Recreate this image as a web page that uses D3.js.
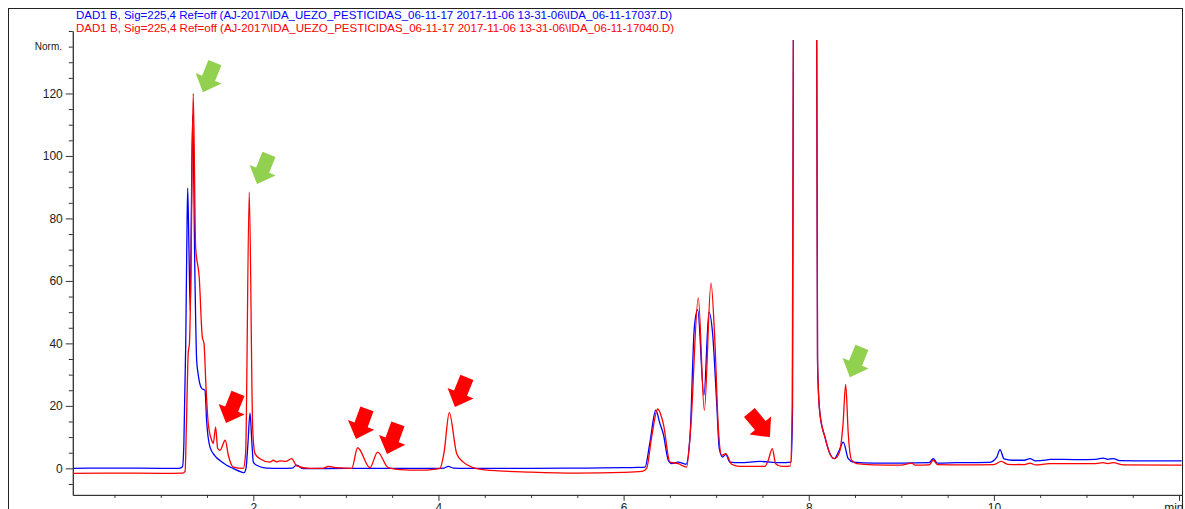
<!DOCTYPE html>
<html>
<head>
<meta charset="utf-8">
<script src="https://cdn.jsdelivr.net/npm/d3@7"></script>
<style>
	body { margin: 0; background: #fff; }
	svg { display: block; font-family: 'Liberation Sans', Arial, sans-serif; }
</style>
</head>
<body>
<div id="chart"></div>
<script>
// NOTE chromatogram data, [time (min), signal (Norm.)]
var blueTitle = 'DAD1 B, Sig=225,4 Ref=off (AJ-2017\\IDA_UEZO_PESTICIDAS_06-11-17 2017-11-06 13-31-06\\IDA_06-11-17037.D)';
var redTitle = 'DAD1 B, Sig=225,4 Ref=off (AJ-2017\\IDA_UEZO_PESTICIDAS_06-11-17 2017-11-06 13-31-06\\IDA_06-11-17040.D)';

var blueTrace = [
	[0.05, 0], [0.6, 0.1], [1.0, 0], [1.2, 0], [1.235, 0.5], [1.25, 8], [1.27, 40], [1.283, 75],
	[1.291, 89.7], [1.305, 70], [1.319, 50.5], [1.33, 80], [1.345, 113], [1.37, 60], [1.388, 34.6],
	[1.405, 30], [1.442, 25.6], [1.478, 25], [1.496, 15], [1.532, 6.8], [1.586, 4], [1.64, 2.5],
	[1.712, 1], [1.78, 0], [1.874, -1.2], [1.899, -1.4], [1.921, 0], [1.942, 8], [1.964, 17.7],
	[1.985, 8], [2.0, 2], [2.036, 1], [2.144, 0.1], [2.3, 0], [2.42, 0.1], [2.468, 1], [2.54, -0.1],
	[3.0, 0], [3.5, 0], [4.0, 0], [4.06, 0.1], [4.106, 0.6], [4.16, 0.1], [4.3, 0], [5.0, 0],
	[5.6, 0.1], [6.0, 0.2], [6.15, 0.3], [6.231, 0.4], [6.285, 8.4], [6.347, 18.6], [6.393, 14.3],
	[6.429, 11], [6.483, 2.6], [6.519, 1.5], [6.59, 2], [6.674, 1.3], [6.717, 10], [6.764, 45],
	[6.8, 50.8], [6.868, 23.4], [6.922, 50], [6.962, 43], [7.006, 20.7], [7.034, 6.3], [7.07, 3.6],
	[7.103, 4.5], [7.149, 2], [7.257, 1.8], [7.473, 2.2], [7.69, 1.8], [7.81, 2], [7.825, 20],
	[7.835, 150], [7.85, 600], [7.96, 2000], [8.07, 600], [8.085, 150], [8.095, 35], [8.103, 26],
	[8.121, 17.5], [8.175, 10], [8.229, 4.7], [8.276, 3.1], [8.33, 5.8], [8.373, 8.4], [8.427, 3.1],
	[8.481, 2], [8.7, 1.7], [9.0, 1.7], [9.3, 1.8], [9.345, 3.1], [9.39, 1.7], [9.6, 1.8], [9.95, 1.9],
	[10.03, 3.5], [10.066, 6], [10.11, 3], [10.2, 2.6], [10.33, 2.6], [10.39, 3.1], [10.45, 2.4],
	[10.55, 2.6], [10.606, 2.9], [10.9, 2.8], [11.1, 2.9], [11.18, 3.3], [11.23, 2.9], [11.29, 3.1],
	[11.36, 2.5], [11.7, 2.4], [12.03, 2.4]
];

var redTrace = [
	[0.05, -1.6], [0.5, -1.5], [1.0, -1.6], [1.24, -1.5], [1.263, -1], [1.278, 15], [1.297, 37],
	[1.31, 40], [1.325, 60], [1.351, 120], [1.377, 70.8], [1.416, 61], [1.449, 42], [1.467, 40],
	[1.489, 26], [1.513, 14.4], [1.55, 9], [1.567, 7.9], [1.593, 13.2], [1.615, 6.3], [1.64, 5.8],
	[1.697, 9], [1.73, 4.2], [1.784, 0.4], [1.892, 0], [1.917, 5], [1.956, 88.4], [1.993, 13],
	[2.018, 4.7], [2.072, 3.1], [2.18, 2], [2.216, 2.6], [2.25, 2.1], [2.288, 2.4], [2.35, 2.2],
	[2.414, 3.1], [2.468, 0.8], [2.612, 0], [2.75, 0], [2.81, 0.6], [2.9, 0.2], [2.972, 0.1],
	[3.063, 0], [3.127, 6.6], [3.26, 0.2], [3.343, 5.2], [3.458, 0.2], [3.584, -0.4], [3.8, -0.6],
	[3.95, -0.3], [4.016, 0], [4.06, 5], [4.117, 17.8], [4.197, 4.7], [4.268, 2], [4.376, 0.2],
	[4.5, -0.5], [5.0, -1.2], [5.5, -1.5], [6.0, -1.3], [6.2, -1.0], [6.249, 0], [6.303, 10],
	[6.368, 19], [6.429, 14.3], [6.501, 2], [6.59, 1.5], [6.681, 0.4], [6.725, 13], [6.807, 54.6],
	[6.872, 18.6], [6.944, 59.3], [6.987, 40], [7.023, 13], [7.06, 4.2], [7.103, 4.7], [7.167, 1.3],
	[7.257, 0.6], [7.527, 0.6], [7.563, 2.6], [7.606, 6.3], [7.643, 1.5], [7.708, 0.6], [7.8, 0.7],
	[7.822, 20], [7.835, 150], [7.85, 600], [7.96, 2000], [8.07, 600], [8.085, 150], [8.095, 35],
	[8.103, 26], [8.121, 17.5], [8.175, 10], [8.229, 4.7], [8.276, 3.1], [8.33, 5], [8.37, 14],
	[8.399, 26.9], [8.427, 11], [8.463, 2.6], [8.518, 1.5], [8.7, 1.1], [9.0, 1], [9.112, 1.7],
	[9.15, 1], [9.3, 1.1], [9.345, 2.6], [9.39, 1.2], [9.7, 1.1], [10.0, 1.2], [10.08, 2.2],
	[10.15, 1.3], [10.33, 1.2], [10.39, 1.7], [10.45, 1.1], [10.6, 1.5], [10.9, 1.5], [11.1, 1.5],
	[11.18, 1.8], [11.23, 1.5], [11.29, 1.8], [11.4, 1.1], [12.03, 1.0]
];

// NOTE annotation arrows: [time, signal at tip, direction in degrees]
var greenArrows = [[1.456, 120.4, 112], [2.04, 91, 112], [8.445, 29.2, 112]];
var redArrows = [[1.705, 14.5, 112], [3.109, 9.4, 110], [3.444, 4.6, 110], [4.178, 19.6, 112], [7.581, 10, 50]];

var yMajor = [0, 20, 40, 60, 80, 100, 120];
var xMajor = [2, 4, 6, 8, 10, 12];

var width = 1185,
	height = 509;

var svg = d3
	.select('#chart')
	.append('svg')
	.attr('width', width)
	.attr('height', height);

// frame
svg
	.append('rect')
	.attr('x', 8.5)
	.attr('y', 8.5)
	.attr('width', 1174)
	.attr('height', 530)
	.attr('fill', 'none')
	.attr('stroke', '#222')
	.attr('stroke-width', 1);

var x = d3.scaleLinear().domain([0.05, 12.03]).range([72.8, 1181.8]);
var y = d3.scaleLinear().domain([-8.5, 140]).range([494.9, 31]);

// titles
svg
	.append('text')
	.attr('x', 76)
	.attr('y', 19)
	.attr('font-size', 11)
	.attr('textLength', 596)
	.attr('lengthAdjust', 'spacingAndGlyphs')
	.attr('fill', '#0000ff')
	.text(blueTitle);

svg
	.append('text')
	.attr('x', 76)
	.attr('y', 32)
	.attr('font-size', 11)
	.attr('textLength', 598)
	.attr('lengthAdjust', 'spacingAndGlyphs')
	.attr('fill', '#ff0000')
	.text(redTitle);

// y axis
var yMinor = d3.range(-5, 141, 5).filter(function (d) {
	return yMajor.indexOf(d) < 0;
});

var yAxis = svg.append('g').attr('transform', 'translate(' + x.range()[0] + ',0)');
yAxis
	.append('g')
	.call(d3.axisLeft(y).tickValues(yMinor).tickSize(4).tickSizeOuter(0).tickFormat(''));
yAxis
	.append('g')
	.call(d3.axisLeft(y).tickValues(yMajor).tickSize(7).tickSizeOuter(0).tickPadding(3));

// x axis
var xMinor = d3.range(0.5, 12.01, 0.5).filter(function (d) {
	return xMajor.indexOf(d) < 0;
});

var xAxis = svg.append('g').attr('transform', 'translate(0,' + y.range()[0] + ')');
xAxis
	.append('g')
	.call(d3.axisBottom(x).tickValues(xMinor).tickSize(3).tickSizeOuter(0).tickFormat(''));
var xMajorAxis = xAxis
	.append('g')
	.call(
		d3
			.axisBottom(x)
			.tickValues(xMajor)
			.tickSize(6)
			.tickSizeOuter(0)
			.tickPadding(3)
			.tickFormat(function (d) {
				return d === 12 ? 'min' : d;
			})
	);

// last label ends at the frame
xMajorAxis
	.selectAll('.tick text')
	.filter(function (d) {
		return d === 12;
	})
	.attr('text-anchor', 'end')
	.attr('x', 4);

svg.selectAll('.domain, .tick line').attr('stroke', '#333');
svg
	.selectAll('.tick text')
	.attr('fill', '#222')
	.attr('font-size', 12)
	.attr('font-family', "'Liberation Sans', Arial, sans-serif");

svg
	.append('text')
	.attr('x', 62)
	.attr('y', y(135) + 3.5)
	.attr('text-anchor', 'end')
	.attr('font-size', 10)
	.attr('fill', '#222')
	.text('Norm.');

// traces
svg
	.append('clipPath')
	.attr('id', 'plot-clip')
	.append('rect')
	.attr('x', x.range()[0])
	.attr('y', 40)
	.attr('width', x.range()[1] - x.range()[0])
	.attr('height', y.range()[0] - 40);

var line = d3
	.line()
	.x(function (d) {
		return x(d[0]);
	})
	.y(function (d) {
		return y(d[1]);
	})
	.curve(d3.curveMonotoneX);

var traces = svg.append('g').attr('clip-path', 'url(#plot-clip)');

traces
	.append('path')
	.datum(blueTrace)
	.attr('d', line)
	.attr('fill', 'none')
	.attr('stroke', '#0000ff')
	.attr('stroke-width', 1.3);

traces
	.append('path')
	.datum(redTrace)
	.attr('d', line)
	.attr('fill', 'none')
	.attr('stroke', '#ff0000')
	.attr('stroke-width', 1.3);

// arrows (tip at origin, pointing along +x)
var arrowShape = [[0, 0], [-15, -14], [-15, -7], [-32, -7], [-32, 7], [-15, 7], [-15, 14]];

function drawArrows(list, color) {
	svg
		.append('g')
		.selectAll('path')
		.data(list)
		.enter()
		.append('path')
		.attr('d', 'M' + arrowShape.join('L') + 'Z')
		.attr('fill', color)
		.attr('transform', function (d) {
			return 'translate(' + x(d[0]) + ',' + y(d[1]) + ') rotate(' + d[2] + ')';
		});
}

drawArrows(greenArrows, '#92d050');
drawArrows(redArrows, '#ff0000');
</script>
</body>
</html>
